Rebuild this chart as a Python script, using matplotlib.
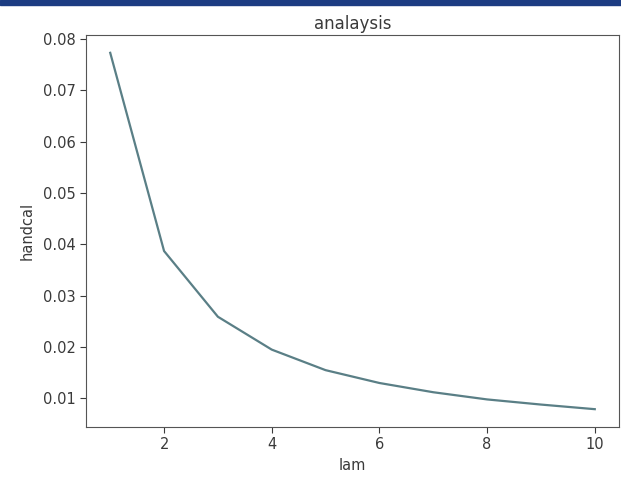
import matplotlib
matplotlib.use("Agg")
import matplotlib.pyplot as plt
from matplotlib.patches import Rectangle

lam = [1, 2, 3, 4, 5, 6, 7, 8, 9, 10]
handcal = [0.0773, 0.0387, 0.0259, 0.0195, 0.0155, 0.0130, 0.0112, 0.0098, 0.0088, 0.0079]
x_ticks = [2, 4, 6, 8, 10]
y_ticks = [0.01, 0.02, 0.03, 0.04, 0.05, 0.06, 0.07, 0.08]

txt = "#3a3a3a"
plt.rcParams['font.family'] = ['DejaVu Sans']
fig = plt.figure(figsize=(6.21, 4.84), dpi=100)
fig.patches.append(Rectangle((0, 1 - 5/484), 1, 5/484, transform=fig.transFigure,
                             color="#1c3c82", zorder=0))
ax = fig.add_axes([86/621, 1 - 427/484, (619 - 86)/621, (427 - 35)/484])
ax.plot(lam, handcal, color="#5a7f86", lw=1.6)
ax.set_xticks(x_ticks)
ax.set_yticks(y_ticks)
ax.set_yticklabels([f"{v:.2f}" for v in y_ticks])
ax.tick_params(labelsize=10.5, colors=txt, length=4)
for s in ax.spines.values():
    s.set_color("#555555")
ax.set_title("analaysis", fontsize=12, color=txt, pad=4)
ax.set_xlabel("lam", fontsize=10.5, color=txt)
ax.set_ylabel("handcal", fontsize=10.5, color=txt, labelpad=6)
fig.savefig("out.png", dpi=100)
